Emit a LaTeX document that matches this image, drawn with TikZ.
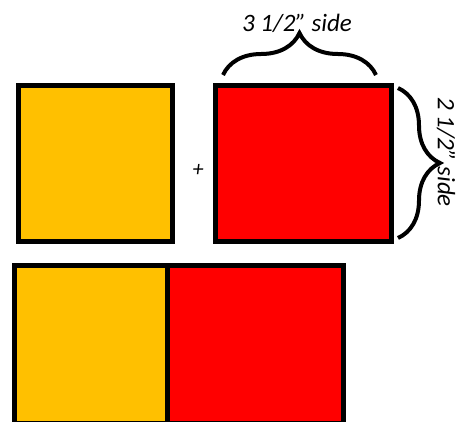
\documentclass[tikz,border=0pt]{standalone}
\usepackage{fontspec}
\setmainfont{Carlito}
\usetikzlibrary{decorations.pathreplacing}
\definecolor{gold}{HTML}{FFC000}
\definecolor{brightred}{HTML}{FF0000}
\tikzset{
  sq/.style={draw=black, line width=5pt, inner sep=0pt, outer sep=0pt},
  curly/.style={decorate, decoration={brace, amplitude=42pt}, line width=4pt},
  lbl/.style={font=\fontsize{25}{28}\selectfont\itshape}
}
\begin{document}
\begin{tikzpicture}[x=1pt, y=1pt]
    \useasboundingbox (0,0) rectangle (469,421);
    \node[sq, fill=gold, minimum width=154pt, minimum height=156pt] (ysq) at (95.5, 257.3) {};
    \node[sq, fill=brightred, minimum width=176pt, minimum height=156pt] (rsq) at (303.5, 257.5) {};
    \node[sq, fill=gold, minimum width=152.5pt, minimum height=157.5pt] (ybot) at (90.75, 76.75) {};
    \node[sq, fill=brightred, minimum width=176.5pt, minimum height=157.5pt] (rbot) at (255.25, 76.75) {};
    \node[font=\fontsize{22}{24}\selectfont\itshape] (plus) at (198, 251) {+};
    \coordinate (tl) at (223, 346);
    \coordinate (tr) at (376, 346);
    \coordinate (rt) at (398, 333);
    \coordinate (rb) at (398, 183);
    \draw[curly] (tl) to (tr);
    \draw[curly] (rt) to (rb);
    \node[lbl] (wid) at (297, 398) {3 1/2” side};
    \node[lbl, rotate=-90] (hgt) at (446, 269) {2 1/2” side};
  \end{tikzpicture}
\end{document}
